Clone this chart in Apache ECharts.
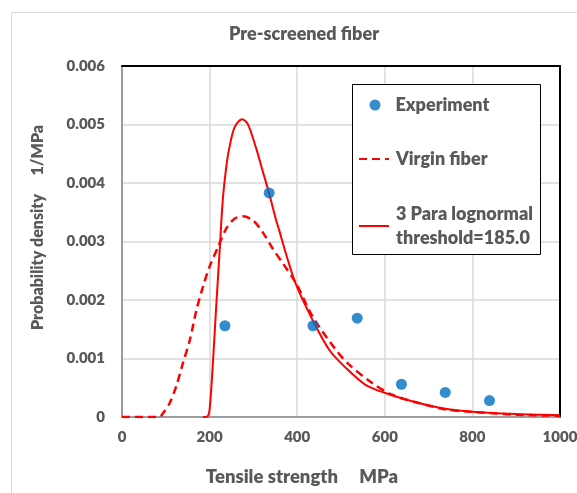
<!DOCTYPE html>
<html><head><meta charset="utf-8">
<script src="https://cdn.jsdelivr.net/npm/echarts@6/dist/echarts.min.js"></script>
<style>html,body{margin:0;padding:0;background:#fff}#c{width:577px;height:493px}</style>
</head><body><div id="c"></div>
<script>
// Tick labels
var xTicks = [0, 200, 400, 600, 800, 1000];
var yTicks = [0, 0.001, 0.002, 0.003, 0.004, 0.005, 0.006];
// Experiment
var expX = [235, 336, 436, 537, 638, 738, 839];
var expY = [0.00156, 0.00383, 0.00156, 0.00169, 0.00056, 0.00042, 0.00028];
// Virgin fiber (dashed)
var virginX = [0, 86, 94, 109, 124, 139, 155, 170, 185, 200, 219, 238, 257, 276, 299, 321, 344, 367, 397, 435, 488, 518, 571, 617, 677, 738, 796, 900, 1000];
var virginY = [0, 0, 0.00007, 0.00024, 0.00053, 0.00092, 0.00132, 0.00183, 0.00223, 0.00257, 0.0029, 0.00322, 0.00339, 0.00343, 0.00336, 0.00316, 0.00288, 0.00263, 0.00229, 0.00172, 0.00115, 0.0009, 0.00058, 0.00038, 0.00024, 0.00013, 0.00009, 0.00004, 0.00002];
// 3 Para lognormal (solid)
var lognX = [185, 195, 200, 207, 215, 223, 230, 238, 245, 257, 274, 287, 306, 321, 336, 352, 359, 374, 397, 435, 473, 511, 556, 601, 662, 738, 798, 900, 1000];
var lognY = [0, 0.00001, 0.00013, 0.00086, 0.00188, 0.00285, 0.0037, 0.00427, 0.0046, 0.00495, 0.00509, 0.00501, 0.0046, 0.00421, 0.00382, 0.00336, 0.00319, 0.0028, 0.00227, 0.00166, 0.00115, 0.00084, 0.00055, 0.00041, 0.00027, 0.00014, 0.00009, 0.00005, 0.00003];

function zip(a, b) { return a.map(function (v, i) { return [v, b[i]]; }); }
var FONT = 'Lato';
var GRAY = '#595959';
var NAME_EXP = 'Experiment';
var NAME_VIR = 'Virgin fiber';
var NAME_LOG = '3 Para lognormal\nthreshold=185.0';

var chart = echarts.init(document.getElementById('c'), null, {renderer: 'canvas'});
chart.setOption({
  animation: false,
  backgroundColor: '#fff',
  textStyle: {fontFamily: FONT},
  title: {
    text: 'Pre-screened fiber', left: 299, top: 20, textAlign: 'center',
    textStyle: {fontFamily: FONT, fontWeight: 800, fontSize: 18, color: GRAY}
  },
  graphic: [
    {type: 'rect', left: 9, top: 10, shape: {width: 600, height: 520}, style: {fill: 'none', stroke: '#d9d9d9', lineWidth: 1}, z: 0, silent: true},
    {type: 'rect', left: 352, top: 84, shape: {width: 188, height: 170}, style: {fill: '#fff', stroke: '#000', lineWidth: 1}, z: 50, zlevel: 0, silent: true}
  ],
  grid: {left: 122, right: 17, top: 66, bottom: 76, containLabel: false, outerBoundsMode: 'none'},
  xAxis: [{
    type: 'value', min: 0, max: 1000, interval: 200,
    axisLine: {show: true, lineStyle: {color: '#868686', width: 1.5}},
    axisTick: {show: false},
    splitLine: {show: true, lineStyle: {color: '#d9d9d9', width: 1.5}},
    axisLabel: {margin: 13, color: GRAY, fontFamily: FONT, fontWeight: 800, fontSize: 15,
      formatter: function (v) { return xTicks.indexOf(v) >= 0 ? String(v) : ''; }},
    name: 'Tensile strength     MPa', nameLocation: 'middle', nameGap: 51,
    nameTextStyle: {color: GRAY, fontFamily: FONT, fontWeight: 800, fontSize: 18.5, padding: [0, 78, 0, 0]}
  }, {
    type: 'value', position: 'top', min: 0, max: 1000, interval: 200,
    axisLine: {show: true, onZero: false, lineStyle: {color: '#000', width: 2}},
    axisTick: {show: false}, axisLabel: {show: false}, splitLine: {show: false}
  }],
  yAxis: [{
    type: 'value', min: 0, max: 0.006, interval: 0.001,
    axisLine: {show: true, lineStyle: {color: '#868686', width: 1.5}},
    axisTick: {show: false},
    splitLine: {show: true, lineStyle: {color: '#d9d9d9', width: 1.5}},
    axisLabel: {margin: 17, color: GRAY, fontFamily: FONT, fontWeight: 800, fontSize: 15,
      formatter: function (v) {
        for (var i = 0; i < yTicks.length; i++) {
          if (Math.abs(v - yTicks[i]) < 1e-9) return yTicks[i] === 0 ? '0' : yTicks[i].toFixed(3);
        }
        return '';
      }},
    name: 'Probability density     1/MPa', nameLocation: 'middle', nameGap: 76,
    nameTextStyle: {color: GRAY, fontFamily: FONT, fontWeight: 800, fontSize: 16, padding: [0, 0, 0, 28]}
  }, {
    type: 'value', position: 'right', min: 0, max: 0.006, interval: 0.001,
    axisLine: {show: true, onZero: false, lineStyle: {color: '#000', width: 2}},
    axisTick: {show: false}, axisLabel: {show: false}, splitLine: {show: false}
  }],
  legend: [{
    data: [{name: NAME_EXP, icon: 'circle'}], left: 369.5, top: 96, z: 60, padding: 0,
    itemWidth: 11, itemHeight: 11, selectedMode: false,
    textStyle: {color: GRAY, fontFamily: FONT, fontWeight: 800, fontSize: 18, padding: [0, 0, 0, 10]}
  }, {
    data: [NAME_VIR], left: 358, top: 150, z: 60, padding: 0,
    itemWidth: 30, itemHeight: 14, selectedMode: false,
    itemStyle: {opacity: 0},
    textStyle: {color: GRAY, fontFamily: FONT, fontWeight: 800, fontSize: 18, padding: [0, 0, 0, 2]}
  }, {
    data: [NAME_LOG], left: 358, top: 190, z: 60, padding: 0,
    itemWidth: 30, itemHeight: 14, selectedMode: false,
    itemStyle: {opacity: 0},
    textStyle: {color: GRAY, fontFamily: FONT, fontWeight: 800, fontSize: 18, lineHeight: 24, padding: [24, 0, 0, 2]}
  }],
  series: [{
    name: NAME_VIR, type: 'line', data: zip(virginX, virginY),
    symbol: 'none', smooth: 0.3,
    lineStyle: {color: '#ff0000', width: 2.5, type: [8, 5]}, itemStyle: {color: '#ff0000'}, z: 3
  }, {
    name: NAME_LOG, type: 'line', data: zip(lognX, lognY),
    symbol: 'none', smooth: 0.3,
    lineStyle: {color: '#ff0000', width: 2}, itemStyle: {color: '#ff0000'}, z: 3
  }, {
    name: NAME_EXP, type: 'scatter', data: zip(expX, expY),
    symbol: 'circle', symbolSize: 11, itemStyle: {color: '#0070c0'}, z: 4
  }]
});
</script>
</body></html>
